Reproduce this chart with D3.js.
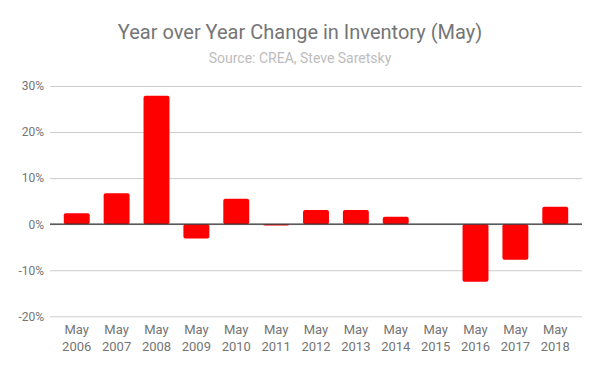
<!DOCTYPE html>
<html>
<head>
<meta charset="utf-8">
<script src="https://cdn.jsdelivr.net/npm/d3@7"></script>
<style>
  body { margin: 0; background: #fff; }
  text { font-family: Roboto, sans-serif; }
</style>
</head>
<body>
<div id="chart"></div>
<script>
// data
const years = ["2006", "2007", "2008", "2009", "2010", "2011", "2012",
	"2013", "2014", "2015", "2016", "2017", "2018"];
const changes = [2.4, 6.7, 27.9, -3.1, 5.5, -0.3, 3.1, 3.1, 1.6, 0, -12.5, -7.7, 3.8];
const yTicks = [-20, -10, 0, 10, 20, 30];

const width = 600, height = 371;
const data = years.map((y, i) => ({ year: y, value: changes[i] }));

const svg = d3.select("#chart").append("svg")
	.attr("width", width)
	.attr("height", height);

const x = d3.scaleBand()
	.domain(years)
	.range([57, 575])
	.paddingInner(0.35)
	.paddingOuter(0.17);

const y = d3.scaleLinear()
	.domain([-20, 30])
	.range([316.3, 86]);

// titles
svg.append("text")
	.attr("x", 300)
	.attr("y", 39)
	.attr("text-anchor", "middle")
	.attr("font-size", 20)
	.attr("fill", "#757575")
	.text("Year over Year Change in Inventory (May)");

svg.append("text")
	.attr("x", 300)
	.attr("y", 63)
	.attr("text-anchor", "middle")
	.attr("font-size", 14)
	.attr("fill", "#bdbdbd")
	.text("Source: CREA, Steve Saretsky");

// gridlines + y labels
const yAxis = svg.append("g")
	.attr("transform", "translate(50,0)")
	.call(d3.axisLeft(y)
		.tickValues(yTicks)
		.tickSize(-532)
		.tickPadding(6)
		.tickFormat(d => d + "%"));

yAxis.select(".domain").remove();
yAxis.selectAll("line").attr("stroke", "#cccccc");
yAxis.selectAll("text")
	.attr("fill", "#757575")
	.attr("font-size", 12)
	.attr("font-family", "Roboto, sans-serif");

// bars
svg.selectAll("rect.bar")
	.data(data)
	.enter().append("rect")
	.attr("class", "bar")
	.attr("x", d => x(d.year))
	.attr("y", d => y(Math.max(0, d.value)))
	.attr("width", x.bandwidth())
	.attr("height", d => Math.abs(y(d.value) - y(0)))
	.attr("rx", 2)
	.attr("fill", "#ff0000");

// zero baseline
svg.append("line")
	.attr("x1", 50)
	.attr("x2", 582)
	.attr("y1", y(0))
	.attr("y2", y(0))
	.attr("stroke", "#333333")
	.attr("stroke-width", 1.2);

// x labels
const xLab = svg.append("g");
xLab.selectAll("text")
	.data(years)
	.enter().append("text")
	.attr("x", d => x(d) + x.bandwidth() / 2)
	.attr("y", 334)
	.attr("text-anchor", "middle")
	.attr("font-size", 13)
	.attr("fill", "#757575")
	.each(function(d) {
		const t = d3.select(this);
		t.append("tspan").attr("x", x(d) + x.bandwidth() / 2).text("May");
		t.append("tspan").attr("x", x(d) + x.bandwidth() / 2).attr("dy", 17).text(d);
	});
</script>
</body>
</html>
